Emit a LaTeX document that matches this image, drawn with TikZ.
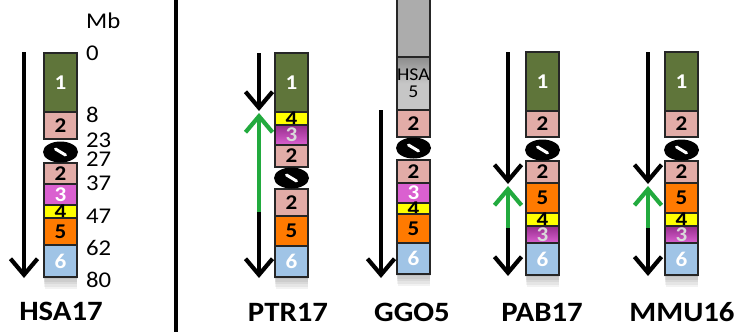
\documentclass[tikz,border=0pt]{standalone}
\usepackage{fontspec}
\setmainfont{Carlito}[FakeStretch=1.1]
\usetikzlibrary{arrows.meta,shapes.geometric}
\definecolor{cgreen}{RGB}{95,117,58}
\definecolor{cpink}{RGB}{226,172,167}
\definecolor{cmag}{RGB}{218,96,208}
\definecolor{cmagd}{RGB}{150,45,140}
\definecolor{cyel}{RGB}{255,255,0}
\definecolor{corange}{RGB}{255,122,0}
\definecolor{cblue}{RGB}{160,196,230}
\definecolor{cgray}{RGB}{172,172,172}
\definecolor{cgrayl}{RGB}{198,198,198}
\definecolor{cgraym}{RGB}{140,140,140}
\definecolor{cagreen}{RGB}{34,170,62}
\newcommand{\chrseg}[7]{\node[seg,#5,minimum height={#4-#3},label={[num,text=#6]center:#7}] (#1) at (#2,{(#3+#4)/2}) {};}
\newcommand{\chrcen}[3]{\node[cen] (#1) at (#2,#3) {};
  \draw[white,line width=3pt,line cap=round] ([shift={(-5,-3)}]#1.center) -- ([shift={(5,3)}]#1.center);}
\newcommand{\chrshadow}[3]{\foreach \i in {1,...,5}{\fill[black,opacity=0.05] ({#1-1+\i*0.3},#3) rectangle ({#2+1-\i*0.3},{#3+2.4*\i});}}
\tikzset{
  seg/.style={draw=black!85,line width=1.3pt,minimum width=33pt,inner sep=0pt,rectangle},
  cen/.style={ellipse,fill=black,minimum width=35pt,minimum height=21pt,inner sep=0pt},
  num/.style={font=\fontsize{21}{21}\selectfont\bfseries,inner sep=0pt},
  mbl/.style={font=\fontsize{22.5}{22.5}\selectfont,anchor=base west,inner sep=0pt},
  chrname/.style={font=\fontsize{28}{28}\selectfont\bfseries,anchor=base,inner sep=0pt},
  barrow/.style={draw=black,line width=4.2pt,-{Straight Barb[length=16pt,width=27pt]}},
  garrow/.style={barrow,draw=cagreen}
}
\begin{document}
\begin{tikzpicture}[x=1pt,y=-1pt]
\fill[white] (0,0) rectangle (740,332);
\useasboundingbox (0,0) rectangle (740,332);
% divider
\coordinate (d0) at (176,-2); \coordinate (d1) at (176,334);
\draw[line width=4.5pt] (d0) -- (d1);
% ---------------- HSA17
\chrshadow{44}{77}{277}
\chrseg{h1}{60.5}{53}{112}{fill=cgreen}{white}{1}
\chrseg{h2a}{60.5}{112}{139}{fill=cpink}{black}{2}
\chrseg{h2b}{60.5}{163}{184}{fill=cpink}{black}{2}
\chrseg{h3}{60.5}{184}{205}{fill=cmag}{white}{3}
\chrseg{h4}{60.5}{205}{218}{fill=cyel}{black}{4}
\chrseg{h5}{60.5}{218}{245}{fill=corange}{black}{5}
\chrseg{h6}{60.5}{245}{277}{fill=cblue}{white}{6}
\chrcen{hc}{60.5}{152}
\coordinate (ha0) at (24,52); \coordinate (ha1) at (24,278);
\draw[barrow] (ha0) -- (ha1);
\node[mbl] (mb) at (86,28) {Mb};
\node[mbl] (m0) at (86,60) {0};
\node[mbl] (m8) at (86,122) {8};
\node[mbl] (m23) at (86,147) {23};
\node[mbl] (m27) at (86,166) {27};
\node[mbl] (m37) at (86,190) {37};
\node[mbl] (m47) at (86,223) {47};
\node[mbl] (m62) at (86,255) {62};
\node[mbl] (m80) at (86,287) {80};
\node[chrname] (nh) at (61,320) {HSA17};
% ---------------- PTR17
\chrshadow{275}{308}{277}
\chrseg{p1}{291.5}{53}{112}{fill=cgreen}{white}{1}
\chrseg{p4}{291.5}{112}{125}{fill=cyel}{black}{4}
\chrseg{p3}{291.5}{125}{145}{top color=cmagd,bottom color=cmag}{white!85!black}{3}
\chrseg{p2a}{291.5}{145}{167}{fill=cpink}{black}{2}
\chrseg{p2b}{291.5}{189}{216}{fill=cpink}{black}{2}
\chrseg{p5}{291.5}{216}{246}{fill=corange}{black}{5}
\chrseg{p6}{291.5}{246}{277}{fill=cblue}{white}{6}
\chrcen{pc}{291.5}{178}
\coordinate (pa0) at (259,53); \coordinate (pa1) at (259,111);
\coordinate (pg0) at (259,212); \coordinate (pg1) at (259,113);
\coordinate (pb0) at (259,212); \coordinate (pb1) at (259,278);
\draw[barrow] (pa0) -- (pa1);
\draw[garrow] (pg0) -- (pg1);
\draw[barrow] (pb0) -- (pb1);
\node[chrname] (np) at (288,321) {PTR17};
% ---------------- GGO5
\chrshadow{397}{430}{274}
\chrseg{gtop}{413.5}{-6}{57}{fill=cgray}{black}{}
\node[seg,top color=cgraym,bottom color=cgrayl,middle color=cgrayl,minimum height=53pt,align=center,
  font=\fontsize{18}{17}\selectfont] (g5) at (413.5,83.5) {HSA\\5};
\chrseg{g2a}{413.5}{110}{137}{fill=cpink}{black}{2}
\chrseg{g2b}{413.5}{160}{183}{fill=cpink}{black}{2}
\chrseg{g3}{413.5}{183}{203}{fill=cmag}{white}{3}
\chrseg{g4}{413.5}{203}{214}{fill=cyel}{black}{4}
\chrseg{g5o}{413.5}{214}{243}{fill=corange}{black}{5}
\chrseg{g6}{413.5}{243}{274}{fill=cblue}{white}{6}
\chrcen{gc}{413.5}{148}
\coordinate (ga0) at (381,110); \coordinate (ga1) at (381,278);
\draw[barrow] (ga0) -- (ga1);
\node[chrname] (ng) at (412,321) {GGO5};
% ---------------- PAB17
\chrshadow{526}{559}{275}
\chrseg{b1}{542.5}{52}{111}{fill=cgreen}{white}{1}
\chrseg{b2a}{542.5}{111}{137}{fill=cpink}{black}{2}
\chrseg{b2b}{542.5}{161}{183}{fill=cpink}{black}{2}
\chrseg{b5}{542.5}{183}{213}{fill=corange}{black}{5}
\chrseg{b4}{542.5}{213}{226}{fill=cyel}{black}{4}
\chrseg{b3}{542.5}{226}{243}{top color=cmagd,bottom color=cmag}{white!85!black}{3}
\chrseg{b6}{542.5}{243}{275}{fill=cblue}{white}{6}
\chrcen{bc}{542.5}{150}
\coordinate (ba0) at (508,52); \coordinate (ba1) at (508,184);
\coordinate (bg0) at (508,228); \coordinate (bg1) at (508,186);
\coordinate (bb0) at (508,228); \coordinate (bb1) at (508,276);
\draw[barrow] (ba0) -- (ba1);
\draw[garrow] (bg0) -- (bg1);
\draw[barrow] (bb0) -- (bb1);
\node[chrname] (nb) at (542,321) {PAB17};
% ---------------- MMU16
\chrshadow{665}{698}{275}
\chrseg{m1}{681.5}{52}{111}{fill=cgreen}{white}{1}
\chrseg{m2a}{681.5}{111}{137}{fill=cpink}{black}{2}
\chrseg{m2b}{681.5}{161}{183}{fill=cpink}{black}{2}
\chrseg{m5}{681.5}{183}{213}{fill=corange}{black}{5}
\chrseg{m4}{681.5}{213}{226}{fill=cyel}{black}{4}
\chrseg{m3}{681.5}{226}{243}{top color=cmagd,bottom color=cmag}{white!85!black}{3}
\chrseg{m6}{681.5}{243}{275}{fill=cblue}{white}{6}
\chrcen{mc}{681.5}{150}
\coordinate (ma0) at (648,52); \coordinate (ma1) at (648,184);
\coordinate (mg0) at (648,228); \coordinate (mg1) at (648,186);
\coordinate (mb0) at (648,228); \coordinate (mb1) at (648,276);
\draw[barrow] (ma0) -- (ma1);
\draw[garrow] (mg0) -- (mg1);
\draw[barrow] (mb0) -- (mb1);
\node[chrname] (nm) at (682,321) {MMU16};
\end{tikzpicture}
\end{document}
